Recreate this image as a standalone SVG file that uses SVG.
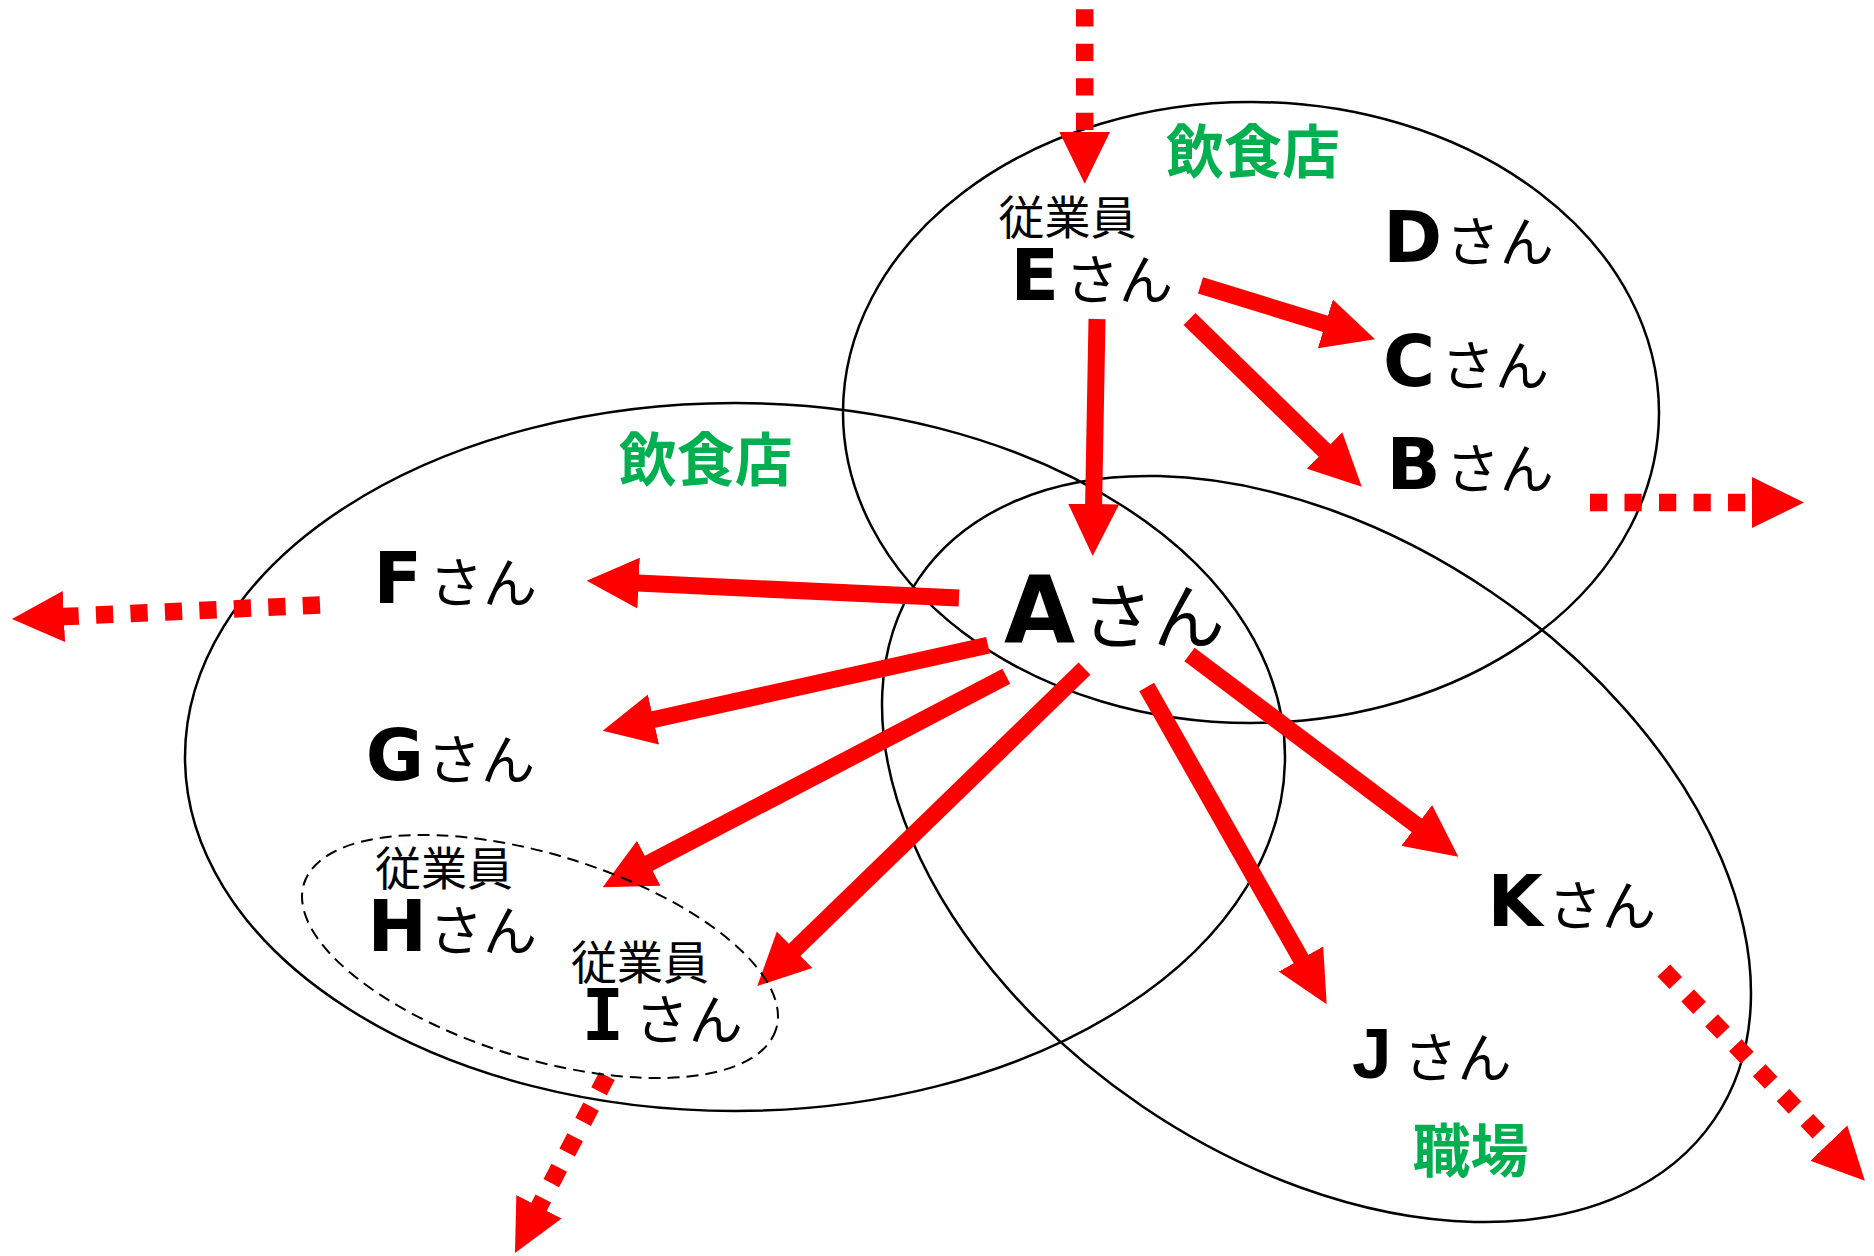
<svg xmlns="http://www.w3.org/2000/svg" width="1874" height="1256" viewBox="0 0 1874 1256">
  <style>
    .region { fill: none; stroke: #000; stroke-width: 2.5; }
    .staff { fill: none; stroke: #000; stroke-width: 2; stroke-dasharray: 12 7; }
    .link { fill: none; stroke: #ff0000; stroke-width: 17; stroke-linecap: butt; marker-end: url(#ah); }
    .spread { fill: none; stroke: #ff0000; stroke-width: 17.5; stroke-linecap: butt; stroke-dasharray: 17.25 17.25; marker-end: url(#ah); }
    .ltr { font-family: "DejaVu Sans", Verdana, sans-serif; font-weight: bold; font-size: 71px; fill: #000; }
    .ltrI { font-family: "DejaVu Sans Mono", "Liberation Mono", monospace; font-weight: bold; font-size: 71px; fill: #000; }
    .ltrJ { font-family: "Liberation Sans", Arial, sans-serif; font-weight: bold; font-size: 71px; fill: #000; }
    .san { font-family: "Noto Sans CJK JP", "Noto Sans", sans-serif; font-size: 54px; fill: #000; }
    .role { font-family: "Noto Sans CJK JP", "Noto Sans", sans-serif; font-size: 46px; fill: #000; }
    .place { font-family: "Noto Sans CJK JP", "Noto Sans", sans-serif; font-weight: bold; font-size: 58px; fill: #00b050; text-anchor: middle; }
  </style>
  <defs>
    <marker id="ah" markerUnits="userSpaceOnUse" markerWidth="52" markerHeight="52" viewBox="-1 -26 52 52" refX="0" refY="0" orient="auto">
      <path d="M-1,-25.5 L51,0 L-1,25.5 Z" fill="#ff0000"/>
    </marker>
  </defs>
  <rect width="1874" height="1256" fill="#fff"/>

  <g id="regions">
    <ellipse id="restaurant-top" class="region" cx="1251" cy="412.5" rx="408" ry="310.5"/>
    <ellipse id="restaurant-left" class="region" cx="735" cy="757" rx="550" ry="354"/>
    <ellipse id="workplace" class="region" cx="1316.5" cy="849" rx="481" ry="310.7" transform="rotate(34.2 1316.5 849)"/>
    <text class="place" x="1253" y="172.5">飲食店</text>
    <text class="place" x="705.8" y="480.5">飲食店</text>
    <text class="place" x="1470.5" y="1171.5">職場</text>
  </g>

  <g id="connectors">
    <path class="link" d="M1097,319 L1093.6,505"/>
    <path class="link" d="M1200.5,285.3 L1326.3,324.2"/>
    <path class="link" d="M1189.5,319 L1325.2,451.1"/>
    <path class="link" d="M959,598 L637.6,583.1"/>
    <path class="link" d="M988,645.3 L652.5,719.7"/>
    <path class="link" d="M1006.3,676.3 L647.9,863.7"/>
    <path class="link" d="M1084.5,668.7 L793.9,950.5"/>
    <path class="link" d="M1146.7,687 L1301.5,959.9"/>
    <path class="link" d="M1189.5,654.5 L1417.6,826"/>
    <path class="spread" d="M1084.7,9.3 L1084.7,132.7"/>
    <path class="spread" d="M1590,502.5 L1753,502.5"/>
    <path class="spread" d="M320,605 L62.9,616.6"/>
    <path class="spread" d="M607,1076 L538.5,1207.7"/>
    <path class="spread" d="M1663.8,970.5 L1829.6,1143.8"/>
  </g>

  <ellipse id="staff-group" class="staff" cx="540" cy="956.5" rx="247" ry="102" transform="rotate(17.1 540 956.5)"/>

  <g id="node-A"><text class="ltr" x="1004" y="642" style="font-size:92px">A</text><text class="san" x="1081" y="643" style="font-size:72px">さん</text></g>
  <g id="node-B"><text class="ltr" x="1386.6" y="489">B</text><text class="san" x="1445.7" y="489">さん</text></g>
  <g id="node-C"><text class="ltr" x="1383" y="386">C</text><text class="san" x="1441" y="386">さん</text></g>
  <g id="node-D"><text class="ltr" x="1383.3" y="262">D</text><text class="san" x="1445.7" y="262">さん</text></g>
  <g id="node-E"><text class="role" x="998.5" y="234">従業員</text><text class="ltr" x="1010.6" y="300">E</text><text class="san" x="1065" y="300">さん</text></g>
  <g id="node-F"><text class="ltr" x="373.6" y="603.3">F</text><text class="san" x="429" y="603.3">さん</text></g>
  <g id="node-G"><text class="ltr" x="365.8" y="780">G</text><text class="san" x="427" y="780">さん</text></g>
  <g id="node-H"><text class="role" x="375" y="885.3">従業員</text><text class="ltr" x="367.6" y="950.7">H</text><text class="san" x="429" y="950.7">さん</text></g>
  <g id="node-I"><text class="role" x="571" y="978.7">従業員</text><text class="ltrI" x="581.6" y="1040">I</text><text class="san" x="634.7" y="1040">さん</text></g>
  <g id="node-J"><text class="ltrJ" x="1352" y="1078">J</text><text class="san" x="1403.6" y="1078">さん</text></g>
  <g id="node-K"><text class="ltr" x="1487.6" y="926">K</text><text class="san" x="1548" y="926">さん</text></g>
</svg>
